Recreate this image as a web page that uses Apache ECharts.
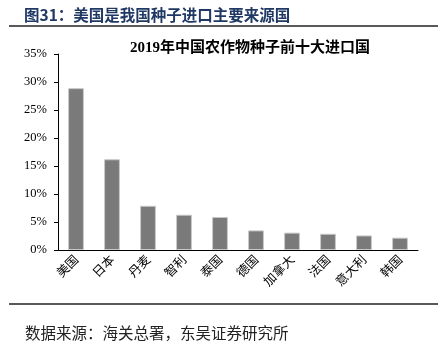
<!doctype html>
<html>
<head>
<meta charset="utf-8">
<title>2019年中国农作物种子前十大进口国</title>
<style>
	html,body{height: 100%; padding: 0; margin: 0; background: #fff;}
</style>
</head>
<body>
<div style="height: 354px; width: 448px;" id="chart"></div>
<script src="https://cdn.jsdelivr.net/npm/echarts@6/dist/echarts.min.js"></script>
<script>
var countries = ['美国', '日本', '丹麦', '智利', '泰国', '德国', '加拿大', '法国', '意大利', '韩国'];
var shares = [28.9, 16.2, 7.9, 6.3, 5.9, 3.5, 3.1, 2.9, 2.6, 2.2];
var yTicks = {min: 0, max: 35, interval: 5};

var cjk = '"Noto Sans CJK SC", sans-serif';
var serif = '"Liberation Serif", "Times New Roman", serif';

var chart = echarts.init(document.getElementById('chart'));
var option = {
	backgroundColor: '#fff',
	title: [
		{
			text: '图31：美国是我国种子进口主要来源国',
			left: 19, top: 2,
			textStyle: {fontFamily: cjk, fontSize: 15.5, fontWeight: 'bold', color: '#1f3864'}
		},
		{
			text: '2019年中国农作物种子前十大进口国',
			left: 245, top: 36, textAlign: 'center',
			textStyle: {fontFamily: serif + ',' + cjk, fontSize: 15, fontWeight: 'bold', color: '#000'}
		},
		{
			text: '数据来源：海关总署，东吴证券研究所',
			left: 20, top: 320,
			textStyle: {fontFamily: cjk, fontSize: 15.5, fontWeight: 'normal', color: '#222'}
		}
	],
	graphic: [
		{type: 'line', shape: {x1: 9, y1: 26, x2: 438, y2: 26}, style: {stroke: '#222', lineWidth: 1.5}},
		{type: 'line', shape: {x1: 9, y1: 304, x2: 438, y2: 304}, style: {stroke: '#222', lineWidth: 1.5}}
	],
	grid: {left: 58, right: 30, top: 54, bottom: 104},
	xAxis: {
		type: 'category',
		data: countries,
		axisLine: {lineStyle: {color: '#000', width: 1}},
		axisTick: {length: 4, lineStyle: {color: '#000'}},
		axisLabel: {rotate: 45, fontFamily: cjk, fontSize: 12.5, color: '#000', margin: 7}
	},
	yAxis: {
		type: 'value',
		min: yTicks.min, max: yTicks.max, interval: yTicks.interval,
		splitLine: {show: false},
		axisLine: {show: true, lineStyle: {color: '#000', width: 1}},
		axisTick: {show: true, length: 4, lineStyle: {color: '#000'}},
		axisLabel: {formatter: '{value}%', fontFamily: serif, fontSize: 12.5, color: '#000', margin: 11}
	},
	series: [{
		type: 'bar',
		data: shares,
		barWidth: '44%',
		itemStyle: {color: '#7a7a7a', borderColor: '#c8c8c8', borderWidth: 1},
		silent: true
	}]
};
chart.setOption(option);
</script>
</body>
</html>
